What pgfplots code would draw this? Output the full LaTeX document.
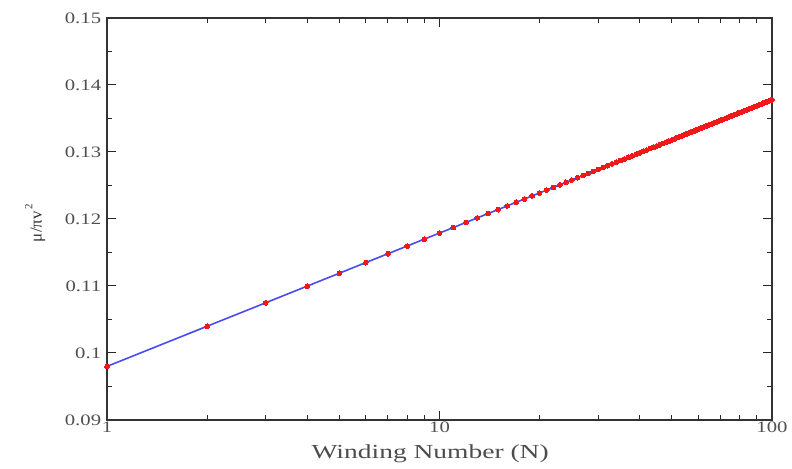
\documentclass[border=0pt]{standalone}
\usepackage{pgfplots}
\usepackage{pgfplotstable}
\pgfplotsset{compat=1.18}
\usepackage{fontspec}
\setmainfont{Liberation Serif}
\usetikzlibrary{calc}
\definecolor{tickgray}{HTML}{505050}
\definecolor{lineblue}{HTML}{4A4AF0}
\definecolor{dotred}{HTML}{F01818}
\pgfplotstableread{
N y
1 0.09800
2 0.10399
3 0.10749
4 0.10998
5 0.11191
6 0.11349
7 0.11482
8 0.11597
9 0.11699
10 0.11790
11 0.11872
12 0.11948
13 0.12017
14 0.12081
15 0.12140
16 0.12196
17 0.12249
18 0.12298
19 0.12345
20 0.12389
21 0.12431
22 0.12471
23 0.12510
24 0.12547
25 0.12582
26 0.12616
27 0.12648
28 0.12680
29 0.12710
30 0.12739
31 0.12768
32 0.12795
33 0.12822
34 0.12848
35 0.12873
36 0.12897
37 0.12921
38 0.12944
39 0.12966
40 0.12988
41 0.13009
42 0.13030
43 0.13051
44 0.13070
45 0.13090
46 0.13109
47 0.13127
48 0.13146
49 0.13163
50 0.13181
51 0.13198
52 0.13215
53 0.13231
54 0.13247
55 0.13263
56 0.13279
57 0.13294
58 0.13309
59 0.13324
60 0.13338
61 0.13353
62 0.13367
63 0.13381
64 0.13394
65 0.13408
66 0.13421
67 0.13434
68 0.13447
69 0.13459
70 0.13472
71 0.13484
72 0.13496
73 0.13508
74 0.13520
75 0.13531
76 0.13543
77 0.13554
78 0.13565
79 0.13576
80 0.13587
81 0.13598
82 0.13608
83 0.13619
84 0.13629
85 0.13640
86 0.13650
87 0.13660
88 0.13670
89 0.13679
90 0.13689
91 0.13698
92 0.13708
93 0.13717
94 0.13727
95 0.13736
96 0.13745
97 0.13754
98 0.13762
99 0.13771
100 0.13780
}\datatable
\begin{document}
\begin{tikzpicture}
\begin{axis}[
  scale only axis,
  width=665bp, height=402bp,
  xmode=log,
  xmin=1, xmax=100, ymin=0.09, ymax=0.15,
  xtick={1,10,100}, xticklabels={1,10,100},
  ytick={0.09,0.10,0.11,0.12,0.13,0.14,0.15},
  yticklabels={0.09,0.1,0.11,0.12,0.13,0.14,0.15},
  minor ytick={0.095,0.105,0.115,0.125,0.135,0.145},
  tick align=inside,
  major tick length=9bp, minor tick length=5bp,
  axis line style={draw=black!80, line width=1.3bp},
  every tick/.style={black!85, line width=1bp},
  ticklabel style={font=\fontsize{16}{16}\selectfont, text=tickgray, xscale=1.3},
  xticklabel style={yshift=2bp},
  yticklabel style={xshift=-1bp},
  xlabel={Winding Number (N)},
  xlabel style={font=\fontsize{20}{20}\selectfont, text=black!70, xscale=1.38,
    at={(axis description cs:0.486,-0.083)}, anchor=center},
  ylabel={μ/πv\raisebox{1.2ex}{\fontsize{11}{11}\selectfont\,2}},
  ylabel style={font=\fontsize{17}{17}\selectfont, text=black!80,
    at={(axis description cs:-0.108,0.49)}, anchor=center},
  clip=false,
]
\addplot[lineblue, line width=1.6bp, no marks] table[x=N, y=y] {\datatable};
\addplot[dotred, only marks, mark=*, mark size=2.4bp, mark options={draw=dotred, fill=dotred, line width=0pt}] table[x=N, y=y] {\datatable};
\end{axis}
\pgfresetboundingbox
\path ($(current axis.south west)+(-107bp,-49bp)$) rectangle ($(current axis.north east)+(20bp,18bp)$);
\end{tikzpicture}
\end{document}
